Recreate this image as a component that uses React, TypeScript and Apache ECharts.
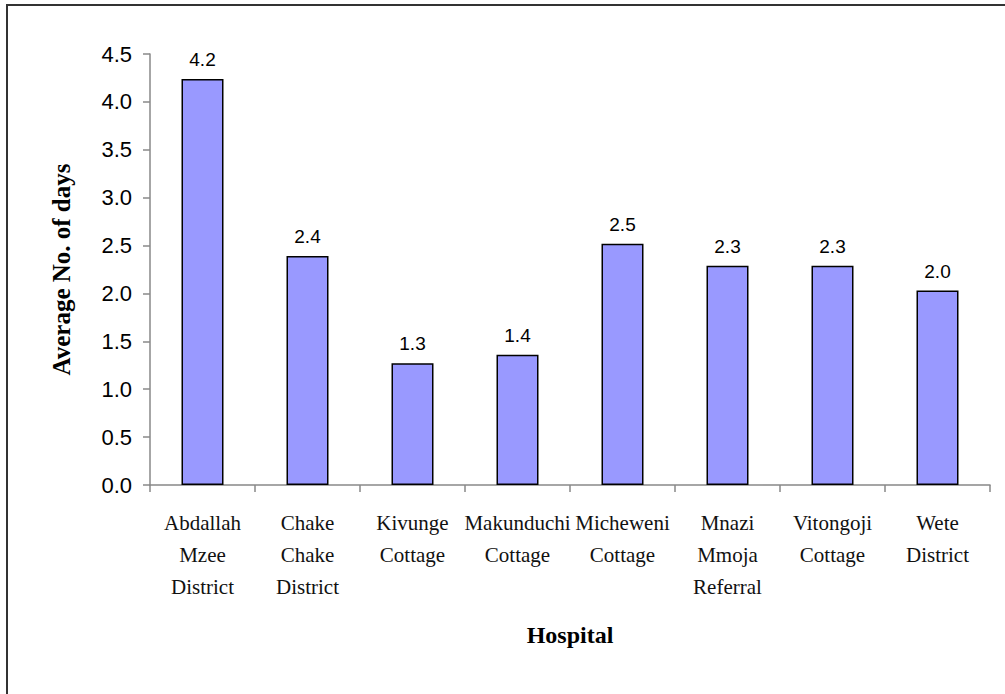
import React, { useEffect, useRef } from "react";
import * as echarts from "echarts";

const categories = [
  "Abdallah\nMzee\nDistrict",
  "Chake\nChake\nDistrict",
  "Kivunge\nCottage",
  "Makunduchi\nCottage",
  "Micheweni\nCottage",
  "Mnazi\nMmoja\nReferral",
  "Vitongoji\nCottage",
  "Wete\nDistrict",
];
const avgDays = [4.24, 2.39, 1.27, 1.36, 2.52, 2.29, 2.29, 2.03];
const yTicks = { min: 0, max: 4.5, interval: 0.5 };

export default function App() {
  const ref = useRef<HTMLDivElement>(null);
  useEffect(() => {
    if (!ref.current) return;
    const chart = echarts.init(ref.current, undefined, { renderer: "svg" });
    chart.setOption({
      animation: false,
      backgroundColor: "#ffffff",
      grid: { left: 150, right: 15, top: 54, bottom: 209, containLabel: false },
      xAxis: {
        type: "category",
        data: categories,
        name: "Hospital",
        nameLocation: "middle",
        nameGap: 138,
        nameTextStyle: {
          fontFamily: "Liberation Serif",
          fontWeight: "bold",
          fontSize: 24,
          color: "#000",
        },
        axisLine: { lineStyle: { color: "#888", width: 1.5 } },
        axisTick: { show: true, length: 7, lineStyle: { color: "#888", width: 1.5 } },
        axisLabel: {
          interval: 0,
          margin: 22,
          fontFamily: "Liberation Serif",
          fontSize: 21,
          lineHeight: 32,
          color: "#111",
        },
      },
      yAxis: {
        type: "value",
        min: yTicks.min,
        max: yTicks.max,
        interval: yTicks.interval,
        name: "Average No. of days",
        nameLocation: "middle",
        nameGap: 76,
        nameTextStyle: {
          fontFamily: "Liberation Serif",
          fontWeight: "bold",
          fontSize: 25,
          color: "#000",
        },
        splitLine: { show: false },
        axisLine: { show: true, lineStyle: { color: "#888", width: 1.5 } },
        axisTick: { show: true, length: 7, lineStyle: { color: "#888", width: 1.5 } },
        axisLabel: {
          margin: 18,
          fontFamily: "Liberation Sans",
          fontSize: 22,
          color: "#000",
          formatter: (v: number) => v.toFixed(1),
        },
      },
      series: [
        {
          type: "bar",
          data: avgDays,
          barWidth: "40%",
          itemStyle: { color: "#9999FF", borderColor: "#000", borderWidth: 1.5 },
          label: {
            show: true,
            position: "top",
            distance: 10,
            fontFamily: "Liberation Sans",
            fontSize: 19,
            color: "#000",
            formatter: (p: any) => Number(p.value).toFixed(1),
          },
        },
      ],
      graphic: [
        {
          type: "line",
          shape: { x1: 7, y1: 4, x2: 7, y2: 694 },
          style: { stroke: "#333", lineWidth: 2 },
        },
        {
          type: "line",
          shape: { x1: 6, y1: 5, x2: 1005, y2: 5 },
          style: { stroke: "#333", lineWidth: 2 },
        },
      ],
    });
    return () => chart.dispose();
  }, []);
  return (
    <div
      ref={ref}
      style={{ position: "absolute", left: 0, top: 0, width: 1005, height: 694 }}
    />
  );
}
